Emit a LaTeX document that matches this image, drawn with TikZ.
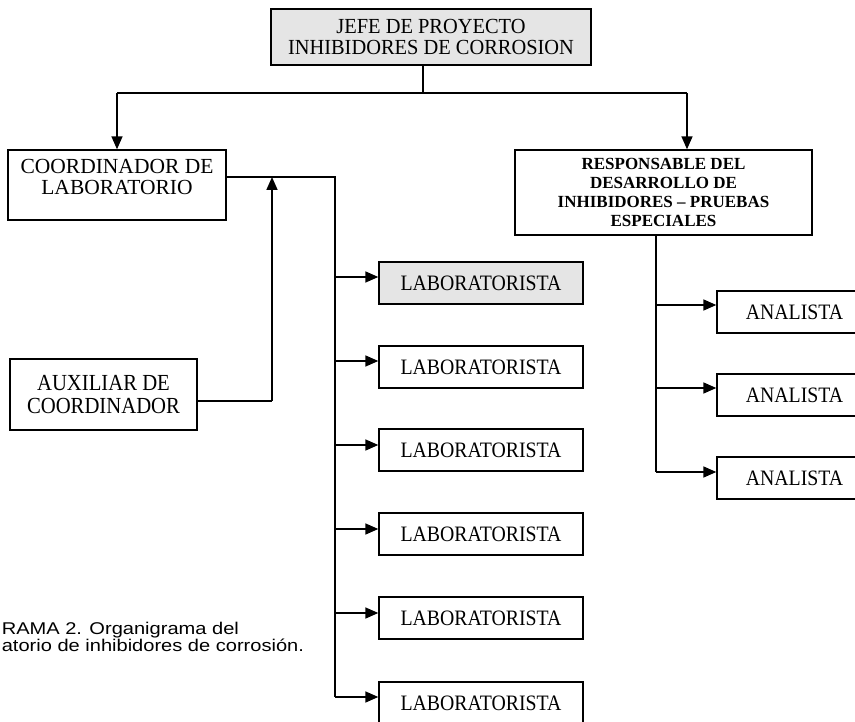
\documentclass[tikz,border=0pt]{standalone}
\usepackage{fontspec}
\setmainfont{Liberation Serif}
\newfontfamily\capfont[FakeStretch=1.18]{Liberation Sans}
\newfontfamily\topfont[FakeStretch=0.95]{Liberation Serif}
\newfontfamily\bxfont[FakeStretch=0.9]{Liberation Serif}
\usetikzlibrary{arrows.meta,calc}
\begin{document}
\begin{tikzpicture}[x=1pt,y=-1pt,
  line width=1.6pt,
  box/.style={draw, line width=1.4pt, inner sep=0pt, align=center},
  shaded/.style={fill=black!10},
  labbox/.style={box, minimum width=204pt, minimum height=42pt, font=\bxfont\fontsize{22}{24}\selectfont},
  anbox/.style={box, minimum width=155pt, minimum height=42pt, font=\bxfont\fontsize{22}{24}\selectfont},
  arr/.style={-{Triangle[length=13pt,width=11pt]}},
  ln/.style={line width=1.6pt}]
\useasboundingbox (0,0) rectangle (855,722);
\clip (0,0) rectangle (855,722);

% boxes
\node[box, shaded, minimum width=320pt, minimum height=56pt, font=\topfont\fontsize{21.5}{21.5}\selectfont] (top) at (431,37) {JEFE DE PROYECTO\\INHIBIDORES DE CORROSION};
\node[box, minimum width=218pt, minimum height=70pt] (coord) at (117,185) {};
\node[inner sep=0pt, align=center, font=\fontsize{21.5}{21.5}\selectfont] (coordT) at (117,177) {COORDINADOR DE\\LABORATORIO};
\node[box, minimum width=297pt, minimum height=85pt, font=\bfseries\fontsize{17}{19}\selectfont] (resp) at (663.5,192.5) {RESPONSABLE DEL\\DESARROLLO DE\\INHIBIDORES -- PRUEBAS\\ESPECIALES};
\node[box, minimum width=187pt, minimum height=71pt, font=\bxfont\fontsize{23}{23}\selectfont] (aux) at (103.5,394.5) {AUXILIAR DE\\COORDINADOR};

\node[labbox, shaded] (l1) at (481,283) {LABORATORISTA};
\node[labbox] (l2) at (481,367) {LABORATORISTA};
\node[labbox] (l3) at (481,450) {LABORATORISTA};
\node[labbox] (l4) at (481,534) {LABORATORISTA};
\node[labbox] (l5) at (481,618) {LABORATORISTA};
\node[labbox] (l6) at (481,703) {LABORATORISTA};

\node[anbox] (a1) at (794.5,312) {ANALISTA};
\node[anbox] (a2) at (794.5,395) {ANALISTA};
\node[anbox] (a3) at (794.5,478) {ANALISTA};

% caption
\node[anchor=north west, inner sep=0pt, align=left, font=\capfont\fontsize{17}{17}\selectfont] (cap) at (1,621) {RAMA 2. Organigrama del\\atorio de inhibidores de corrosión.};

% top bus
\coordinate (topS) at (423,65);
\coordinate (busT) at (423,93);
\coordinate (busL) at (coord.north |- 0,93);
\coordinate (busR) at (687,93);
\draw[ln] (topS) -- (busT);
\draw[ln] (busL) -- (busR);
\draw[ln,arr] (busL) -- (coord.north);
\draw[ln,arr] (busR) -- (busR |- resp.north);

% coordinator trunk
\coordinate (cE) at (coord.east |- 0,177);
\coordinate (tr) at (335,177);
\coordinate (trB) at (335,697);
\draw[ln] (cE) -- (tr) -- (trB);
\foreach \i/\y in {1/277,2/361,3/445,4/529,5/613,6/697}{
  \coordinate (j\i) at (335,\y);
  \draw[ln,arr] (j\i) -- (j\i -| l\i.west);
}

% auxiliar link
\coordinate (aE) at (aux.east |- 0,401);
\coordinate (aV) at (272,401);
\coordinate (aT) at (272,177);
\draw[ln] (aE) -- (aV);
\draw[ln,arr] (aV) -- (aT);

% responsable trunk
\coordinate (rB) at (656,235);
\coordinate (rE) at (656,472);
\draw[ln] (rB) -- (rE);
\foreach \i/\y in {1/305,2/388,3/472}{
  \coordinate (k\i) at (656,\y);
  \draw[ln,arr] (k\i) -- (k\i -| a\i.west);
}
\end{tikzpicture}
\end{document}
